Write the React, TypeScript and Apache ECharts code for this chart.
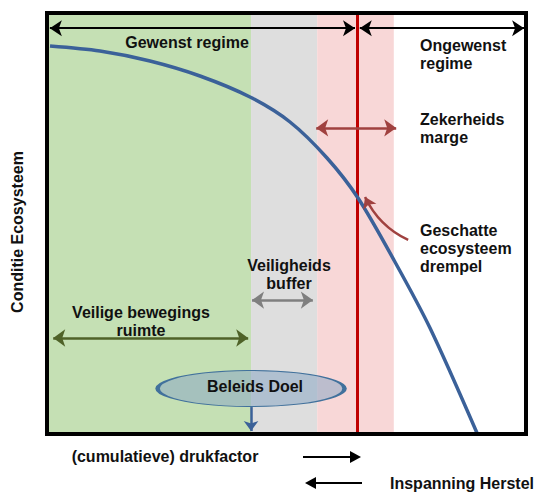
import React, { useEffect, useRef } from "react";
import * as echarts from "echarts";

// Curve: ecosystem condition versus (cumulative) pressure, axes 0..100
const curveX = [0.63, 11.06, 21.5, 31.94, 42.38, 50.73, 58.46, 64.93, 72.65, 79.96, 89.77];
const curveY = [92.16, 90.97, 88.6, 85.04, 80.05, 74.11, 65.56, 56.06, 40.86, 25.18, 0.24];

// Background zones
const zoneNames = ["Veilige bewegingsruimte", "Veiligheidsbuffer", "Zekerheidsmarge"];
const zoneStart = [0, 42.6, 56.4];
const zoneEnd = [42.6, 56.4, 72.4];
const zoneColors = ["#c5e0b4", "#dedede", "#f8d7d7"];

const thresholdX = 64.8;
const policyTargetX = 42.6;
const policyTargetY = 10.8;

// Annotation arrows [x1, x2, y]
const desiredArrow = [0.6, 64.3, 96.4];
const undesiredArrow = [65.3, 99.6, 96.4];
const marginArrow = [56.2, 72.9, 72.7];
const bufferArrow = [42.8, 55.5, 31.8];
const safeArrow = [1.3, 42.0, 22.8];
const targetArrowY = [6.4, 0.7];
const pointerFrom = [75.4, 46.1];
const pointerTo = [66.4, 56.3];

const FONT = '"Liberation Sans", Arial, sans-serif';
const FS = 16;

const txt = (text: string, x: number, y: number, align = "left", extra: any = {}) => ({
  type: "text",
  x,
  y,
  z: 50,
  style: {
    text,
    fontSize: FS,
    fontWeight: "bold",
    fontFamily: FONT,
    fill: "#111",
    textAlign: align,
    textVerticalAlign: "middle",
    lineHeight: 18,
    ...extra,
  },
});

function hArrow(a: number[], color: string, width: number, size: number[]) {
  return [
    { coord: [a[0], a[2]], symbol: "arrow", symbolSize: size, lineStyle: { color, width, type: "solid" } },
    { coord: [a[1], a[2]], symbol: "arrow", symbolSize: size },
  ];
}

export default function App() {
  const ref = useRef<HTMLDivElement>(null);
  useEffect(() => {
    const chart = echarts.init(ref.current!, null, { renderer: "svg" });
    const option: any = {
      animation: false,
      grid: {
        left: 47,
        top: 13,
        width: 479,
        height: 421,
        show: true,
        borderColor: "#000",
        borderWidth: 4,
        backgroundColor: "transparent",
        z: 10,
      },
      xAxis: { type: "value", min: 0, max: 100, show: false },
      yAxis: { type: "value", min: 0, max: 100, show: false },
      series: [
        {
          type: "line",
          name: "Conditie",
          data: curveX.map((x, i) => [x, curveY[i]]),
          smooth: 0.3,
          symbol: "none",
          z: 5,
          lineStyle: { color: "#3b6199", width: 3.5 },
          markArea: {
            silent: true,
            data: zoneNames.map((n, i) => [
              { xAxis: zoneStart[i], yAxis: 0, itemStyle: { color: zoneColors[i] } },
              { xAxis: zoneEnd[i], yAxis: 100 },
            ]),
          },
          markLine: {
            silent: true,
            symbol: "none",
            label: { show: false },
            data: [
              [
                { coord: [thresholdX, 0], symbol: "none", lineStyle: { color: "#c00000", width: 3, type: "solid" } },
                { coord: [thresholdX, 100], symbol: "none" },
              ],
              hArrow(desiredArrow, "#000", 2, [12, 12]),
              hArrow(undesiredArrow, "#000", 2, [12, 12]),
              hArrow(marginArrow, "#a0413f", 2.5, [13, 12]),
              hArrow(bufferArrow, "#7f7f7f", 2.5, [13, 12]),
              hArrow(safeArrow, "#4f6228", 2.5, [13, 12]),
              [
                { coord: [policyTargetX, targetArrowY[0]], symbol: "none", lineStyle: { color: "#3b6199", width: 2.5, type: "solid" } },
                { coord: [policyTargetX, targetArrowY[1]], symbol: "arrow", symbolSize: [11, 10] },
              ],
            ],
          },
        },
        {
          type: "lines",
          coordinateSystem: "cartesian2d",
          z: 6,
          symbol: ["none", "arrow"],
          symbolSize: 11,
          lineStyle: { color: "#a0413f", width: 2.5, curveness: 0.18, opacity: 1 },
          data: [{ coords: [pointerFrom, pointerTo] }],
        },
        {
          type: "scatter",
          z: 8,
          symbol: "circle",
          symbolSize: [187, 36],
          itemStyle: { color: "rgba(138,168,196,0.55)", borderColor: "#41719c", borderWidth: 2, opacity: 1 },
          label: {
            show: true,
            position: "inside",
            formatter: "Beleids Doel",
            fontSize: FS,
            fontWeight: "bold",
            fontFamily: FONT,
            color: "#111",
            offset: [4, -2],
          },
          data: [[policyTargetX, policyTargetY]],
        },
      ],
      graphic: [
        txt("Gewenst regime", 187, 42, "center"),
        txt("Ongewenst\nregime", 420, 54),
        txt("Zekerheids\nmarge", 420, 128),
        txt("Geschatte\necosysteem\ndrempel", 420, 248),
        txt("Veiligheids\nbuffer", 289, 274, "center"),
        txt("Veilige bewegings\nruimte", 141, 321, "center"),
        txt("(cumulatieve) drukfactor", 165, 456, "center"),
        txt("Inspanning Herstel", 390, 483),
        {
          type: "text",
          x: 17,
          y: 232,
          rotation: Math.PI / 2,
          style: {
            text: "Conditie Ecosysteem",
            fontSize: FS,
            fontWeight: "bold",
            fontFamily: FONT,
            fill: "#111",
            textAlign: "center",
            textVerticalAlign: "middle",
          },
        },
        { type: "line", shape: { x1: 303, y1: 457, x2: 352, y2: 457 }, style: { stroke: "#000", lineWidth: 2 } },
        { type: "polygon", shape: { points: [[350, 451], [361, 457], [350, 463]] }, style: { fill: "#000" } },
        { type: "line", shape: { x1: 314, y1: 483, x2: 362, y2: 483 }, style: { stroke: "#000", lineWidth: 2 } },
        { type: "polygon", shape: { points: [[316, 477], [305, 483], [316, 489]] }, style: { fill: "#000" } },
      ],
    };
    chart.setOption(option);
    return () => chart.dispose();
  }, []);
  return (
    <div
      ref={ref}
      style={{ position: "fixed", left: 0, top: 0, width: 541, height: 494, background: "#fff" }}
    />
  );
}
